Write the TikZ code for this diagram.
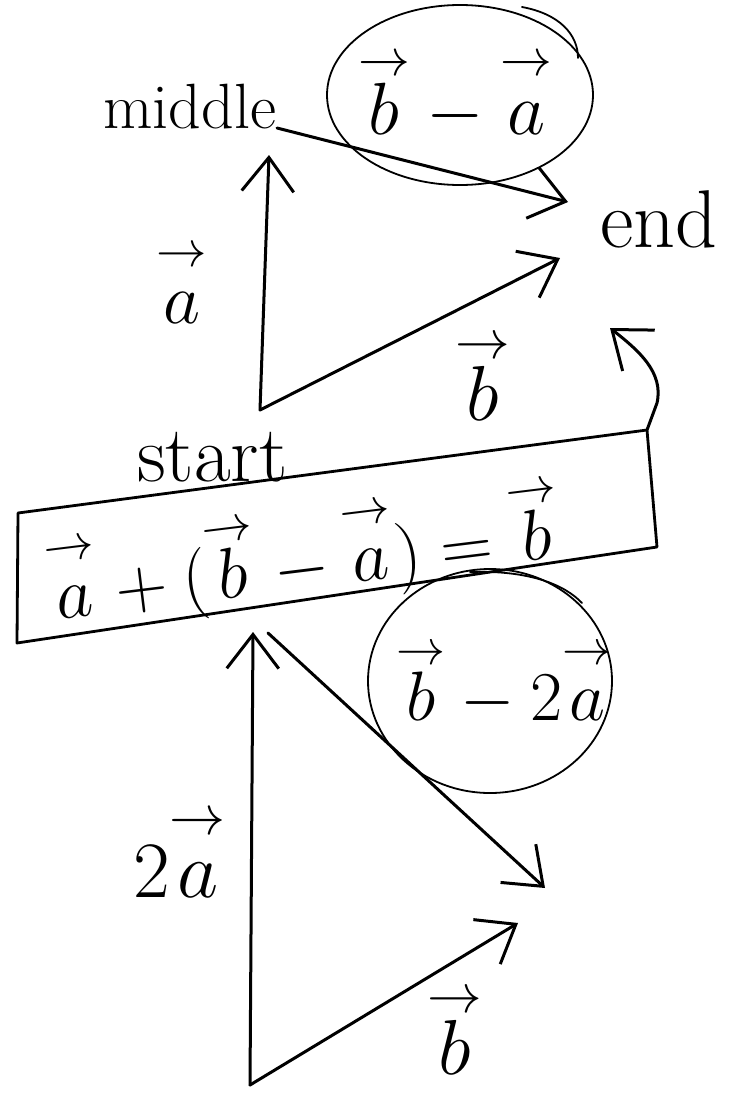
\RequirePackage{fix-cm}
\documentclass[tikz,border=0pt]{standalone}
\usetikzlibrary{arrows.meta}
\newcommand\hgt{\rule{0pt}{0.76em}}
\newcommand\va{\mathord{\stackrel{\rightarrow}{\hgt a}}}
\newcommand\vb{\mathord{\stackrel{\rightarrow}{\hgt b}}}
\begin{document}
\begin{tikzpicture}[x=1pt,y=-1pt, line cap=round, line join=round,
  vec/.style={line width=3pt, -{Straight Barb[length=34pt,width=52pt,line width=3pt]}},
  loopline/.style={line width=1.8pt},
  boxline/.style={line width=2.8pt},
  txt/.style={inner sep=0pt}]
\useasboundingbox (0,0) rectangle (735,1098);
\fill[white] (0,0) rectangle (735,1098);

% top triangle
\coordinate (s1) at (260,410);
\coordinate (m1) at (269,155);
\coordinate (e1) at (560,258);
\coordinate (mt) at (277,128);
\coordinate (et) at (568,202);
\draw[vec] (s1) -- (m1);
\draw[vec] (s1) -- (e1);
\draw[vec] (mt) -- (et);

\draw[loopline] (460,95) ellipse [x radius=133pt, y radius=90pt];
\draw[loopline] (522,7) .. controls (560,14) and (578,35) .. (578,58);
\node[txt, anchor=base west, font=\fontsize{74}{76}\selectfont] (ba) at (358,134) {$\vb-\va$};
\node[txt, anchor=base west, font=\fontsize{64}{66}\selectfont] (mid) at (103,128) {middle};
\node[txt, anchor=base west, font=\fontsize{82}{84}\selectfont] (endw) at (600,247) {end};
\node[txt, anchor=base, font=\fontsize{72}{74}\selectfont] (la1) at (182,323) {$\va$};
\node[txt, anchor=base, font=\fontsize{78}{80}\selectfont] (lb1) at (483,420) {$\vb$};

% box
\coordinate (btl) at (18,513);
\coordinate (btr) at (647,430);
\coordinate (bbr) at (657,547);
\coordinate (bbl) at (17,643);
\draw[boxline] (btl) -- (btr) -- (bbr) -- (bbl) -- cycle;
\coordinate (ckink) at (657,403);
\coordinate (ctip) at (610,328);
\draw[vec] (btr) -- (ckink) .. controls (664,372) and (638,350) .. (ctip);
\node[txt, anchor=base west, font=\fontsize{80}{82}\selectfont] (st) at (137,481) {start};
\node[txt, anchor=base west, rotate=7, font=\fontsize{72}{74}\selectfont] (eq) at (52,620) {$\va+(\vb-\va)=\vb$};

% bottom triangle
\coordinate (s2) at (250,1085);
\coordinate (m2) at (253,632);
\coordinate (m2b) at (268,633);
\coordinate (e2) at (545,888);
\coordinate (e3) at (518,923);
\draw[vec] (s2) -- (m2);
\draw[vec] (s2) -- (e3);
\draw[vec] (m2b) -- (e2);
\draw[loopline] (490,681) ellipse [x radius=122pt, y radius=112pt];
\draw[loopline] (470,572) .. controls (530,570) and (565,585) .. (582,603);
\node[txt, anchor=base west, font=\fontsize{70}{72}\selectfont] (b2a) at (396,720) {$\vb-2\va$};
\node[txt, anchor=base west, font=\fontsize{80}{82}\selectfont] (l2a) at (133,897) {$2\va$};
\node[txt, anchor=base, font=\fontsize{78}{80}\selectfont] (lb2) at (455,1074) {$\vb$};
\end{tikzpicture}
\end{document}
